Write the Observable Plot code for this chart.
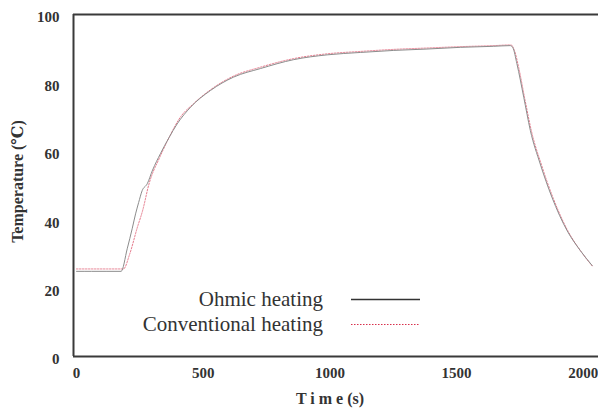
<!DOCTYPE html>
<html>
<head>
<meta charset="utf-8">
<script src="https://cdn.jsdelivr.net/npm/d3@7"></script>
<script src="https://cdn.jsdelivr.net/npm/@observablehq/plot@0.6"></script>
<style>
  html, body { margin: 0; padding: 0; background: #fff; }
  #wrap { position: relative; width: 598px; height: 408px; overflow: hidden; }
  #legend { position: absolute; left: 73px; top: 287px; font-family: "Liberation Serif", "Times New Roman", Tinos, "DejaVu Serif", serif; font-size: 21px; color: #333; }
  .row { display: flex; align-items: center; height: 25px; line-height: 25px; }
  .lab { width: 250px; text-align: right; white-space: nowrap; }
  .row svg { margin-left: 28px; }
</style>
</head>
<body>
<div id="wrap"></div>
<script>
// Axis ticks
const xTicks = [0, 500, 1000, 1500, 2000];
const yTicks = [0, 20, 40, 60, 80, 100];
const xDomain = [-12, 2060];
const yDomain = [0, 100];

// Series labels
const seriesNames = ["Ohmic heating", "Conventional heating"];

// Ohmic heating (s, °C)
const ohmicTime = [0, 60, 120, 176, 200, 220, 233, 245, 259, 279, 300, 331, 365, 397, 450, 529, 620, 726, 857, 989, 1120, 1252, 1383, 1515, 1646, 1712, 1722, 1738, 1765, 1791, 1830, 1876, 1936, 1988, 2035];
const ohmicTemp = [24.9, 24.9, 24.9, 24.9, 31.5, 37.5, 41.7, 45, 48.5, 50.5, 54.5, 59.3, 64, 68, 72.9, 77.8, 81.7, 84.2, 86.8, 88.2, 88.9, 89.5, 89.9, 90.4, 90.7, 90.9, 90.3, 85.6, 75.8, 66.1, 56.3, 46.6, 36.8, 31, 26.6];

// Conventional heating (s, °C)
const convTime = [0, 120, 185, 210, 239, 262, 285, 330, 365, 410, 460, 529, 620, 726, 857, 989, 1120, 1252, 1383, 1515, 1646, 1715, 1728, 1745, 1770, 1795, 1835, 1880, 1940, 1990, 2035];
const convTemp = [25.6, 25.6, 25.6, 30, 37.5, 43, 50.2, 58.5, 64, 70, 73.8, 78, 82, 84.6, 87.1, 88.5, 89.2, 89.8, 90.2, 90.6, 90.9, 91.1, 89.5, 84.5, 75, 66, 56, 46.5, 36.6, 30.8, 26.5];

const ohmic = ohmicTime.map((t, i) => ({t, T: ohmicTemp[i]}));
const conv = convTime.map((t, i) => ({t, T: convTemp[i]}));

const serif = "'Liberation Serif', 'Times New Roman', Tinos, 'DejaVu Serif', serif";
const frameColor = "#3a3a3a";

const chart = Plot.plot({
  width: 598,
  height: 408,
  marginTop: 14,
  marginBottom: 52,
  marginLeft: 73,
  marginRight: 0,
  x: {domain: xDomain},
  y: {domain: yDomain},
  style: {fontFamily: serif, fontSize: "15px", fontWeight: "bold", color: "#333", background: "#fff"},
  marks: [
    Plot.axisX({ticks: xTicks, tickFormat: d => String(d), tickSize: 0, tickPadding: 11, label: null, fontSize: 15, fontWeight: "bold", fontFamily: serif, fill: "#333"}),
    Plot.axisY({ticks: yTicks, tickFormat: d => String(d), tickSize: 0, tickPadding: 14, dy: 3, label: null, fontSize: 15, fontWeight: "bold", fontFamily: serif, fill: "#333"}),
    Plot.line(conv, {x: "t", y: "T", stroke: "#e57a8c", strokeWidth: 1, strokeDasharray: "1.5,1.5", curve: "monotone-x"}),
    Plot.line(ohmic, {x: "t", y: "T", stroke: "#8c8c8c", strokeWidth: 1, curve: "monotone-x"}),
    Plot.ruleY([yDomain[0]], {stroke: frameColor, strokeWidth: 2}),
    Plot.ruleY([yDomain[1]], {stroke: frameColor, strokeWidth: 2}),
    Plot.ruleX([xDomain[0]], {stroke: frameColor, strokeWidth: 2}),
    Plot.text(["Temperature (℃)"], {frameAnchor: "left", textAnchor: "middle", rotate: -90, dx: -56, dy: -4, fontSize: 16, fontWeight: "bold", fontFamily: serif, fill: "#333"}),
    Plot.text(["T i m e (s)"], {frameAnchor: "bottom", dy: 47, dx: -6, fontSize: 16, fontWeight: "bold", fontFamily: serif, fill: "#333"})
  ]
});

const wrap = document.getElementById("wrap");
wrap.appendChild(chart);

const legend = document.createElement("div");
legend.id = "legend";
const styles = [
  {stroke: "#333", width: 1.5, dash: null},
  {stroke: "#d8304c", width: 1, dash: "1.5,1.5"}
];
seriesNames.forEach((name, i) => {
  const row = document.createElement("div");
  row.className = "row";
  const lab = document.createElement("span");
  lab.className = "lab";
  lab.textContent = name;
  row.appendChild(lab);
  const svg = d3.create("svg").attr("width", 69).attr("height", 25);
  svg.append("line").attr("x1", 0).attr("x2", 69).attr("y1", 12.5).attr("y2", 12.5)
    .attr("stroke", styles[i].stroke).attr("stroke-width", styles[i].width)
    .attr("stroke-dasharray", styles[i].dash);
  row.appendChild(svg.node());
  legend.appendChild(row);
});
wrap.appendChild(legend);
</script>
</body>
</html>
